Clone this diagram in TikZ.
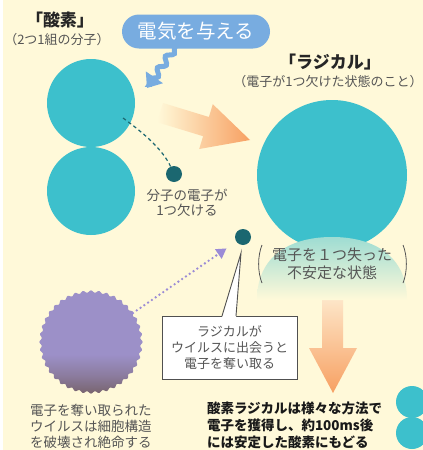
\documentclass[tikz,border=0pt]{standalone}
\usepackage{fontspec}
\setmainfont{Noto Sans CJK JP}
\usetikzlibrary{arrows.meta,decorations.pathmorphing}

\definecolor{paper}{RGB}{255,249,217}
\definecolor{oxy}{RGB}{61,192,204}
\definecolor{elec}{RGB}{27,103,112}
\definecolor{spark}{RGB}{120,172,224}
\definecolor{flow}{RGB}{247,160,98}
\definecolor{flowpale}{RGB}{254,238,212}
\definecolor{virtop}{RGB}{156,144,200}
\definecolor{virbot}{RGB}{120,100,110}
\definecolor{dotline}{RGB}{155,139,214}
\definecolor{ink}{RGB}{85,85,85}
\definecolor{boxline}{RGB}{80,80,80}

% lavender body darkening towards the lower rim
\pgfdeclareverticalshading{virusshade}{100bp}{color(0bp)=(virbot); color(25bp)=(virbot); color(34bp)=(virbot!45!virtop); color(44bp)=(virtop); color(100bp)=(virtop)}

\tikzset{
  every node/.style={inner sep=0pt, outer sep=0pt},
  molecule/.style={circle, fill=oxy, minimum size=#1},
  electron/.style={circle, fill=elec, minimum size=16pt},
  note/.style={text=ink, align=center, font=\fontsize{13}{16}\selectfont},
  heading/.style={text=black!85, font=\bfseries\fontsize{17}{20}\selectfont},
  bubble/.style={fill=spark, rounded corners=17pt, minimum width=148pt,
    minimum height=34pt, text=white, font=\fontsize{19.5}{22}\selectfont},
  callout/.style={draw=boxline, line width=0.9pt, fill=white,
    minimum width=135pt, minimum height=63pt, text=ink, align=center,
    font=\fontsize{13}{15.7}\selectfont},
  dotarrow/.style={dotline, line width=2.6pt, line cap=round,
    dash pattern=on 0pt off 4.6pt, -{Triangle[length=10pt,width=11pt]}}
}

\begin{document}
\begin{tikzpicture}[x=1pt,y=-1pt]
\useasboundingbox (0,0) rectangle (423,450);
\clip (0,0) rectangle (423,450);
\fill[paper] (0,0) rectangle (423,450);
\fill[white] (0,0) rectangle (2.5,450);

% arrow: molecule -> radical
\shade[left color=paper, middle color=flow!55!paper, right color=flow]
  (163.0,103.0) -- (208.9,117.0) -- (212.8,104.2) -- (250,140)
  -- (199.2,149) -- (203.1,136.2) -- (157.2,122.2) -- cycle;

% oxygen molecule
\node[molecule=88pt] (o1) at (91,103) {};
\node[molecule=88pt] (o2) at (91,191) {};

% electron leaving the molecule
\coordinate (leave) at (123,118);
\node[electron] (e1) at (174,174) {};
\draw[elec, line width=1.2pt, dash pattern=on 3.5pt off 3pt]
  (leave) .. controls (145,134) and (163,150) .. (e1);
\node[note, font=\fontsize{13.5}{15.5}\selectfont] (lose) at (187,203) {分子の電子が\\1つ欠ける};

% radical
\node[molecule=150pt] (rad) at (332,175) {};

% arrow: radical -> oxygen again
\shade[top color=flowpale, bottom color=flow]
  (322,288) -- (343,288) -- (343,348) -- (357,348) -- (333,393)
  -- (309,348) -- (322,348) -- cycle;

% unstable zone under the radical
\shade[top color=oxy!50!paper, bottom color=paper]
  (257,300) .. controls (257,256) and (290,237) .. (332,237)
  .. controls (374,237) and (407,256) .. (407,300) -- cycle;
\draw[ink, line width=0.8pt] (262,245) .. controls (257.5,256) and (257.5,272) .. (262,283);
\draw[ink, line width=0.8pt] (403,245) .. controls (407.5,256) and (407.5,272) .. (403,283);
\node[note, font=\fontsize{15}{18}\selectfont] (unstable) at (332,264) {電子を１つ失った\\不安定な状態};

% radical's electron contact
\node[electron] (e2) at (243,237) {};

% virus
\node[circle, minimum size=102pt] (virus) at (91,342) {};
\shade[shading=virusshade]
  plot[domain=0:360, samples=481] ({91+(50.5+1.1*cos(40*\x))*cos(\x)}, {342+(50.5+1.1*cos(40*\x))*sin(\x)}) -- cycle;
\draw[dotarrow, shorten >=12pt] (virus) -- (e2);
\node[note, font=\fontsize{13.5}{16}\selectfont] (dies) at (91,426) {電子を奪い取られた\\ウイルスは細胞構造\\を破壊され絶命する};

% callout from the radical electron
\coordinate (calltip) at (241,253);
\node[callout] (call) at (229.5,347.5) {ラジカルが\\ウイルスに出会うと\\電子を奪い取る};
\fill[white] ([xshift=-7.5pt,yshift=-1.5pt]call.north) -- (calltip) -- ([xshift=6.5pt,yshift=-1.5pt]call.north) -- cycle;
\draw[boxline, line width=0.9pt] ([xshift=-7.5pt]call.north) -- (calltip) -- ([xshift=6.5pt]call.north);

% recovered oxygen
\node[molecule=32pt] (o3) at (412,402) {};
\node[molecule=32pt] (o4) at (412,433) {};
\node[anchor=west, align=left, text=black!90, font=\bfseries\fontsize{13.5}{17}\selectfont] (back) at (207,425)
  {酸素ラジカルは様々な方法で\\電子を獲得し、約100ms後\\には安定した酸素にもどる};

% headings
\node[heading] (oxT) at (60,20) {「酸素」};
\node[note] (oxS) at (57,40) {（2つ1組の分子）};
\node[heading] (radT) at (330,62) {「ラジカル」};
\node[note, anchor=east] (radS) at (422.5,82) {（電子が1つ欠けた状態のこと）};

% energy input
\node[bubble] (give) at (196,31.5) {電気を与える};
\coordinate (zapstart) at (176,46);
\coordinate (zaptip) at (147,88);
\draw[spark, line width=5pt, decorate,
  decoration={snake, amplitude=3pt, segment length=14pt, pre length=3pt, post length=4pt},
  -{Triangle[length=13pt,width=20pt]}] (zapstart) -- (zaptip);
\end{tikzpicture}
\end{document}
